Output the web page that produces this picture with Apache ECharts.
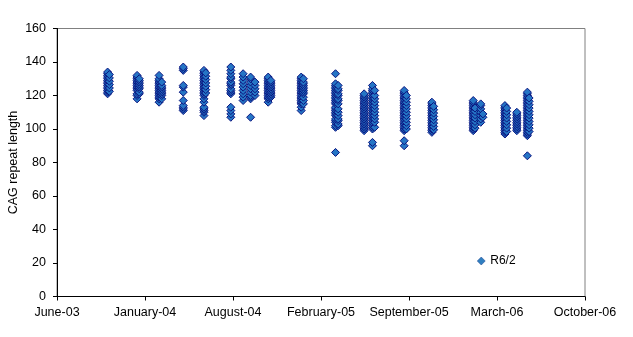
<!DOCTYPE html>
<html>
<head>
<meta charset="utf-8">
<script src="https://cdn.jsdelivr.net/npm/echarts@6/dist/echarts.min.js"></script>
<style>
html,body{margin:0;padding:0;background:#fff;}
#chart{width:633px;height:337px;}
</style>
</head>
<body>
<div id="chart"></div>
<script>
// Axis settings (x axis counts days from the axis start date)
const axisStartDate = '2003-06-29';
const xTickDays = [0, 200, 400, 600, 800, 1000, 1200];
const yTicks = [0, 20, 40, 60, 80, 100, 120, 140, 160];
const monthNames = ['January','February','March','April','May','June','July','August','September','October','November','December'];
const seriesName = 'R6/2';
const yAxisTitle = 'CAG repeat length';

// Sampling dates (one per column of points)
const sampleDates = [
  '2003-10-22','2003-10-26','2003-12-28','2004-01-02','2004-02-16','2004-02-22',
  '2004-04-11','2004-05-28','2004-06-01','2004-07-28','2004-08-25','2004-09-11',
  '2004-09-21','2004-10-21','2004-10-27','2005-01-04','2005-01-09',
  '2005-03-23','2005-03-29','2005-05-27','2005-06-15','2005-06-20',
  '2005-08-26','2005-08-31','2005-10-28','2005-11-01','2006-01-30','2006-02-03','2006-02-16',
  '2006-02-21','2006-04-12','2006-04-16','2006-05-09','2006-06-02','2006-06-06'
];

// CAG repeat lengths measured at each sampling date
const cagValues = [
  [121,122,123,124,125,126,127,128,129,130,131,132,133,134],
  [122.5,124.5,126.5,128.5,130.5,132.5],
  [118,120,121,123,124,125,126,127,128,129,130,131,132],
  [121,122,124,125,126,127,128,129,130],
  [116,118,119,120,121,122,123,124,125,126,127,128,129,130,132],
  [118,120,121,122,123,124,125,126,128],
  [111,112,113,114,117,122,125,126,135,136,137],
  [108,110,111,112,113,116,118,120,121,122,123,124,125,126,127,128,129,130,131,132,133,134,135],
  [121.5,123.5,125.5,127.5,129.5,131.5,133.5],
  [107,109,111,113,121,122,123,124,126,127,128,130,131,133,135,137],
  [117,119,121,123,125,127,129,131,133],
  [107,118,119,120,122,124,126,128,130,131],
  [120,122,124,126,128],
  [116,118,119,120,121,122,123,124,125,126,127,128,129,130,131],
  [119,120,121,122,123,124,125,126,127,128,129],
  [111,113,115,116,117,118,119,120,121,122,123,124,125,126,127,128,129,130,131],
  [115,117,119,121,122,123,124,125,126,127,128,130],
  [86,101,102,104,105,106,108,109,110,111,112,113,115,116,117,118,119,120,121,122,123,124,125,126,127,133],
  [102,103,105,106,108,110,112,115,117,118,120,121,123,124,126],
  [99,100,101,102,103,104,105,106,107,108,109,110,111,112,113,114,115,116,117,118,119,120,121],
  [90,92,100,101,102,103,104,105,106,107,108,109,110,111,112,113,114,115,116,117,118,119,120,121,122,123,124,126],
  [101,104,106,108,110,112,114,116,118,120,123],
  [90,93,99,100,101,102,103,104,105,106,107,108,109,110,111,112,113,114,115,116,117,118,119,120,121,122,123],
  [100,102,104,106,108,110,112,114,116,118,120],
  [98,99,100,101,102,103,104,105,106,107,108,109,110,111,112,113,114,115,116],
  [99.5,101.5,103.5,105.5,107.5,109.5,111.5,113.5],
  [99,100,101,102,103,104,105,106,107,108,109,110,111,112,113,114,115,116,117],
  [100.5,102.5,104.5,106.5,108.5,110.5,112.5],
  [104,106,108,110,112,114,115],
  [107,109],
  [97,98,99,100,101,102,103,104,105,106,107,108,109,110,111,112,113,114],
  [98.5,100.5,102.5,104.5,106.5,108.5,110.5,112.5],
  [99,100,101,102,103,104,105,106,107,108,109,110],
  [84,96,97,98,99,100,101,102,103,104,105,106,107,108,109,110,111,112,113,114,115,116,117,118,119,120,121,122],
  [98.5,100.5,102.5,104.5,106.5,108.5,110.5,112.5,114.5,116.5,118.5]
];

const DAY = 86400000;
const startMs = Date.parse(axisStartDate + 'T00:00:00Z');
function dayOffset(s) { return (Date.parse(s + 'T00:00:00Z') - startMs) / DAY; }

const points = [];
sampleDates.forEach((d, i) => {
  const x = dayOffset(d);
  cagValues[i].forEach(v => points.push([x, v]));
});

const font = 'Liberation Sans, Arial, sans-serif';
const chart = echarts.init(document.getElementById('chart'), null, {renderer: 'canvas'});
chart.setOption({
  animation: false,
  backgroundColor: '#ffffff',
  grid: {
    left: 57, right: 48, top: 28.5, bottom: 40.5,
    containLabel: false, outerBoundsMode: 'none',
    show: true, borderColor: '#808080', borderWidth: 1, backgroundColor: 'transparent'
  },
  legend: {
    data: [{name: seriesName, icon: 'diamond', itemStyle: {color: '#2f7fc0', borderColor: '#1a3c8c', borderWidth: 0.5}}],
    left: 472, top: 250,
    itemWidth: 8, itemHeight: 8, itemGap: 4,
    textStyle: {fontFamily: font, fontSize: 12, color: '#000'}
  },
  xAxis: {
    type: 'value',
    min: xTickDays[0], max: xTickDays[xTickDays.length - 1], interval: xTickDays[1] - xTickDays[0],
    axisLine: {show: true, onZero: false, lineStyle: {color: '#000', width: 1}},
    axisTick: {show: true, inside: false, length: 4, lineStyle: {color: '#000'}},
    splitLine: {show: false},
    axisLabel: {
      margin: 10, color: '#000', fontFamily: font, fontSize: 12.5,
      formatter: function (v) {
        const dt = new Date(startMs + v * DAY);
        return monthNames[dt.getUTCMonth()] + '-' + String(dt.getUTCFullYear() % 100).padStart(2, '0');
      }
    }
  },
  yAxis: {
    type: 'value',
    min: yTicks[0], max: yTicks[yTicks.length - 1], interval: yTicks[1] - yTicks[0],
    name: yAxisTitle, nameLocation: 'middle', nameGap: 37, nameRotate: 90, nameMoveOverlap: false,
    nameTextStyle: {fontFamily: font, fontSize: 12.5, color: '#000'},
    axisLine: {show: true, lineStyle: {color: '#000', width: 1}},
    axisTick: {show: true, inside: false, length: 4, lineStyle: {color: '#000'}},
    splitLine: {show: false},
    axisLabel: {margin: 11, color: '#000', fontFamily: font, fontSize: 12.5}
  },
  series: [{
    name: seriesName,
    type: 'scatter',
    symbol: 'diamond',
    symbolSize: 8,
    data: points,
    itemStyle: {color: '#2575c5', borderColor: '#0a1580', borderWidth: 1, opacity: 1}
  }]
});
</script>
</body>
</html>
